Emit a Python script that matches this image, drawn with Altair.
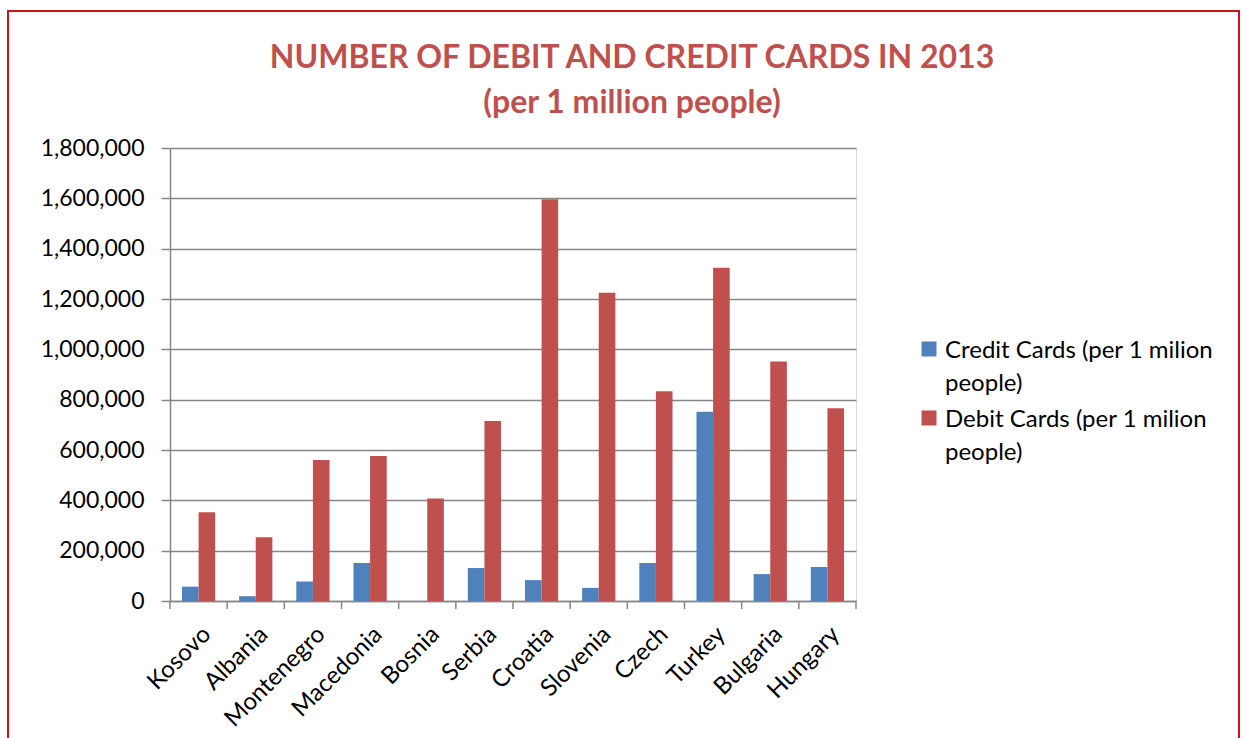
import altair as alt
import pandas as pd

countries = ["Kosovo", "Albania", "Montenegro", "Macedonia", "Bosnia", "Serbia",
             "Croatia", "Slovenia", "Czech", "Turkey", "Bulgaria", "Hungary"]
credit = [57000, 19000, 77000, 151000, 0, 131000, 83000, 52000, 151000, 752000, 107000, 135000]
debit = [353000, 253000, 560000, 576000, 407000, 715000, 1596000, 1225000, 833000, 1324000, 952000, 766000]
series = ["Credit Cards (per 1 milion people)", "Debit Cards (per 1 milion people)"]
colors = ["#4F81BD", "#C0504D"]
y_ticks = [0, 200000, 400000, 600000, 800000, 1000000, 1200000, 1400000, 1600000, 1800000]
title_lines = ["NUMBER OF DEBIT AND CREDIT CARDS IN 2013", "(per 1 million people)"]

rows = []
for c, cr, db in zip(countries, credit, debit):
    rows.append({"country": c, "series": series[0], "value": cr})
    rows.append({"country": c, "series": series[1], "value": db})
df = pd.DataFrame(rows)

W, H = 686, 453
FONT = "Lato"
GRID = "#868686"

xscale = alt.Scale(domain=countries, paddingInner=0, paddingOuter=0)
xaxis = alt.Axis(title=None, labelAngle=-45, labelAlign="right", labelBaseline="top",
                 ticks=False, labelFontSize=24, labelFont=FONT, labelColor="black",
                 labelPadding=21, domainColor=GRID, domainWidth=1.5, grid=False)

bars = alt.Chart(df).mark_bar().encode(
    x=alt.X("country:N", scale=xscale, sort=countries, axis=xaxis),
    xOffset=alt.XOffset("series:N", scale=alt.Scale(domain=series, paddingOuter=0.72, paddingInner=0)),
    y=alt.Y("value:Q", scale=alt.Scale(domain=[0, 1800000]),
            axis=alt.Axis(title=None, values=y_ticks, format=",d", labelFont=FONT,
                          labelFontSize=23, labelColor="black", labelPadding=17,
                          tickSize=9, tickColor=GRID, tickWidth=1.5,
                          domainColor=GRID, domainWidth=1.5,
                          gridColor=GRID, gridWidth=1.5)),
    color=alt.Color("series:N", scale=alt.Scale(domain=series, range=colors),
                    legend=alt.Legend(title=None, orient="none", legendX=747, legendY=179,
                                      symbolType="M-1,0.33H1V2.33H-1Z", symbolSize=225,
                                      symbolStrokeWidth=0,
                                      labelFont=FONT, labelFontSize=24, labelColor="black",
                                      labelBaseline="top", labelLimit=400, rowPadding=0,
                                      labelOffset=4, padding=0,
                                      labelExpr="[slice(datum.label, 0, indexof(datum.label, ' people')), 'people)']")),
)

tick_df = pd.DataFrame({"country": countries})
xticks = alt.Chart(tick_df).mark_rule(color=GRID, strokeWidth=1.5).encode(
    x=alt.X("country:N", scale=xscale, sort=countries, axis=xaxis, bandPosition=0),
    y=alt.value(H), y2=alt.value(H + 8),
)
xtick_end = alt.Chart(tick_df.tail(1)).mark_rule(color=GRID, strokeWidth=1.5).encode(
    x=alt.X("country:N", scale=xscale, sort=countries, axis=xaxis, bandPosition=1),
    y=alt.value(H), y2=alt.value(H + 8),
)

one = pd.DataFrame({"k": [0]})
frame = alt.Chart(one).mark_rect(fillOpacity=0, stroke="#C8141B", strokeWidth=2).encode(
    x=alt.value(-162), x2=alt.value(1069), y=alt.value(-137), y2=alt.value(620),
)
title = alt.Chart(one).mark_text(text=title_lines, font=FONT, fontSize=32, fontWeight="bold",
                                 color="#C0504D", lineHeight=45, align="center",
                                 baseline="alphabetic").encode(
    x=alt.value(462), y=alt.value(-80),
)

chart = alt.layer(frame, bars, xticks, xtick_end, title).properties(
    width=W, height=H,
    padding={"left": 170, "top": 148, "right": 389, "bottom": 137},
    autosize=alt.AutoSizeParams(type="none"),
    background="white",
).configure_view(stroke=None).configure(
    style={"guide-label": {"lineHeight": 33}}
)

chart.save("out.html", embed_options={"renderer": "svg", "actions": False})
